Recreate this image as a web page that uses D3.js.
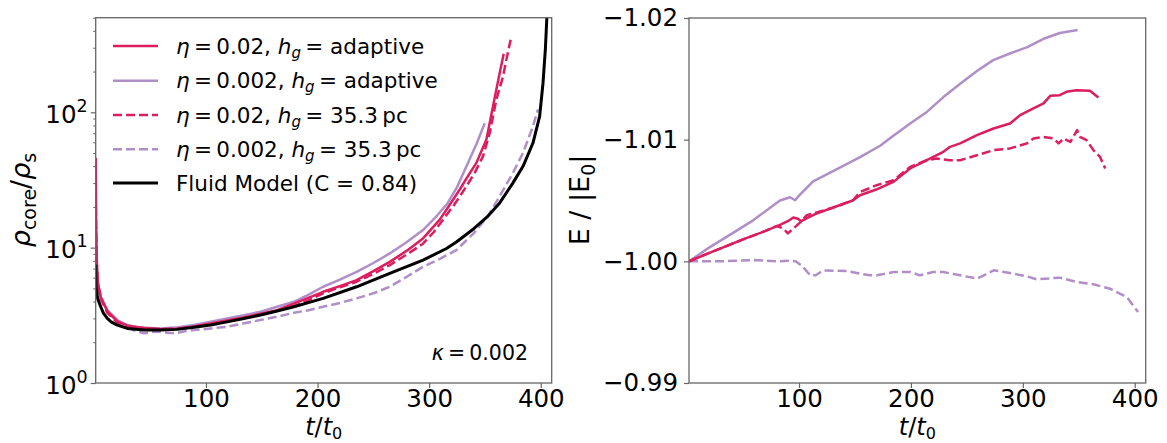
<!DOCTYPE html>
<html><head><meta charset="utf-8">
<script src="https://cdn.jsdelivr.net/npm/d3@7"></script>
<style>
body{margin:0;background:#fff;}
svg text{font-family:"DejaVu Sans",sans-serif;fill:#000;}
</style></head>
<body><svg id="chart" width="1167" height="443"></svg>
<script>
// ---------- DATA (left panel: rho_core/rho_s vs t/t0) ----------
const fluidT = [1.2,1.5,3,5.7,8,11.6,15,20.6,29.5,44.5,59.4,74.3,89.3,104.2,119,134,149,163.8,178.8,205,235,264.7,294.5,315.5,324.4,340,352.7,363.2,375.1,384.1,393,399,402,404.1,405.5];
const fluidV = [7.5,5.14,4.2,3.66,3.3,3.0,2.83,2.68,2.53,2.46,2.46,2.49,2.58,2.68,2.83,3.0,3.18,3.40,3.66,4.22,5.14,6.45,8.09,9.86,11.0,13.8,17.1,21.4,30.1,39.9,59.3,93.4,164,290,511];

const rhoA002T = [1.2,2,3.5,5.7,11.6,20.6,29.5,38.5,59.4,75,89.3,104.2,119,134,149,163.8,178.8,192,205,220,235,250,264.7,280,294.5,305,316,325,333.4,342.3,349.8];
const rhoA002V = [9,6.5,5.2,4.34,3.46,2.92,2.68,2.58,2.53,2.58,2.68,2.83,3.0,3.17,3.36,3.66,3.98,4.5,5.14,5.8,6.63,7.7,9.06,11,13.5,16.5,21,28,40,58,83];

const rhoA02T = [1.3,1.6,2.2,3.2,5.7,11.6,20.6,29.5,44.5,59.4,74.3,89.3,104.2,119,134,149,163.8,175.2,190,205,220,235,250,264.7,280,294.5,309.5,318,327.4,335,342.3,351.3,357.2,363.2,366.8];
const rhoA02V = [46,15,8,5.5,4.3,3.4,2.85,2.65,2.55,2.5,2.52,2.62,2.75,2.9,3.05,3.25,3.45,3.76,4.2,4.72,5.2,5.75,6.7,7.85,9.5,11.7,16.1,20.5,26.9,34,42.3,62.9,111,195,271];

const rhoF02T = [1.3,2,3.2,5.7,11.6,20.6,29.5,44.5,59.4,74.3,89.3,104.2,119,134,149,163.8,178.8,192,205,220,235,250,264.7,280,294.5,304,312.4,322,333.4,341,348.3,354.3,360.2,366.2,369.2,373];
const rhoF02V = [20,8,5.3,4.2,3.3,2.8,2.6,2.52,2.5,2.52,2.6,2.72,2.88,3.03,3.22,3.42,3.7,4.1,4.6,5.1,5.6,6.4,7.43,8.9,10.7,13,16.1,20.5,28.4,36,47.4,70.3,124,184,245,344];

const rhoF002T = [1.2,2.5,5.7,10,14.7,22,29.5,37,44.5,52,59.4,67,74.3,82,89.3,104.2,119,134,149,163.8,178.8,192,205,220,235,250,264.7,280,294.5,310,324.4,340,352.7,363.2,375.1,384.1,393,397.5];
const rhoF002V = [8,5.5,4.46,3.6,3.18,2.8,2.58,2.42,2.33,2.38,2.39,2.34,2.35,2.42,2.46,2.53,2.6,2.76,2.92,3.09,3.30,3.45,3.66,3.9,4.22,4.6,5.14,6.1,7.22,8.3,9.59,12.8,17.1,24,35.7,50.1,78.8,105];

// ---------- DATA (right panel: E/|E0| vs t/t0) ----------
const eA002T = [1.7,20,40,59,83,92,96.5,100,112.6,130,154.6,172.5,184,199,214.5,229,244,259,273.5,289,304,318,333,349];
const eA002V = [-1.0,-1.00115,-1.00228,-1.00337,-1.0050,-1.00527,-1.00502,-1.0054,-1.00658,-1.0074,-1.00856,-1.0095,-1.0103,-1.0113,-1.0123,-1.0135,-1.0146,-1.01565,-1.01654,-1.0171,-1.01761,-1.01827,-1.01877,-1.01901];

const eA02T = [1.7,20,50,70,83,90,95,99,102,108,115,130,148,154.6,169,184.4,199.3,214.2,229,235,244,259,273.8,288.6,297.6,309.5,318.5,324.5,333,339,348,360,363,367.5];
const eA02V = [-1.0,-1.0007,-1.0018,-1.0025,-1.003,-1.0033,-1.0036,-1.0035,-1.0033,-1.0036,-1.0039,-1.0044,-1.005,-1.00543,-1.0059,-1.00653,-1.00763,-1.00831,-1.009,-1.00941,-1.00969,-1.01037,-1.01092,-1.01133,-1.01202,-1.01257,-1.01298,-1.0136,-1.01366,-1.01393,-1.01407,-1.01402,-1.0138,-1.01347];

const eF02T = [1.7,20,50,70,80,86,90,95,101,107,115,130,148,154.6,169.5,184.4,199.3,214.2,223,235,244,259,274,288.6,303.5,309.5,318.5,327.5,332,336.5,342.5,348.5,351,357,363,369,373.6];
const eF02V = [-1.0,-1.0007,-1.0018,-1.0025,-1.0029,-1.0027,-1.0023,-1.0027,-1.0032,-1.0038,-1.004,-1.0044,-1.005,-1.0057,-1.00626,-1.00667,-1.00776,-1.00831,-1.00845,-1.00831,-1.00831,-1.00872,-1.00914,-1.00928,-1.00969,-1.0101,-1.01023,-1.0101,-1.00969,-1.0101,-1.00982,-1.01078,-1.01023,-1.00996,-1.00914,-1.00858,-1.00763];

const eF002T = [1.7,30,60,80,92,97,103,110,115,121.5,143,154.6,163.5,169.5,184.4,199.3,208,220,229,244,259,274,288.6,303.5,312.5,333,348,363,378,393,403];
const eF002V = [-1.0,-1.0,-1.0001,-1.0,-1.00005,-1.0,-0.9996,-0.99885,-0.99885,-0.99926,-0.9992,-0.99899,-0.99885,-0.99885,-0.99912,-0.99912,-0.99885,-0.99912,-0.99912,-0.99885,-0.99858,-0.99926,-0.99904,-0.99877,-0.99852,-0.99866,-0.9983,-0.99811,-0.99775,-0.99706,-0.99583];

// ---------- TICKS / LABELS ----------
const xTicks = [100,200,300,400];
const yLeftMajor = [1,10,100];
const yLeftExp = ["0","1","2"];
const yLeftMinor = [2,3,4,5,6,7,8,9,20,30,40,50,60,70,80,90,200,300,400,500];
const yRightTicks = [-1.02,-1.01,-1.00,-0.99];
const yRightLabels = ["\u22121.02","\u22121.01","\u22121.00","\u22120.99"];

const RED = "#dc1d5e", PURPLE = "#b08fc8";
const TICK_FS = 24.5, LABEL_FS = 27, SUB_FS = 19, LEG_FS = 21.5;
const TH = "\u2009"; // thin space (mathtext spacing)

const svg = d3.select("#chart");
const axisColor = "#666";

// scales
const xL = d3.scaleLinear().domain([1.2,409.8]).range([95.7,551.7]);
const yL = d3.scaleLog().domain([1,500]).range([383,17.7]);
const xR = d3.scaleLinear().domain([1.7,409.8]).range([689,1145.7]);
const yR = d3.scaleLinear().domain([-0.99,-1.02]).range([383,18]);

function clip(id,x,y){
  svg.append("clipPath").attr("id",id).append("rect")
    .attr("x",x.range()[0]).attr("y",y.range()[1])
    .attr("width",x.range()[1]-x.range()[0]).attr("height",y.range()[0]-y.range()[1]);
}
clip("cl",xL,yL); clip("cr",xR,yR);

function drawLine(g,x,y,T,V,color,width,dash){
  const pts = T.map((t,i)=>[t,V[i]]);
  g.append("path").datum(pts)
    .attr("d",d3.line().x(d=>x(d[0])).y(d=>y(d[1])))
    .attr("fill","none").attr("stroke",color).attr("stroke-width",width)
    .attr("stroke-linejoin","round")
    .attr("stroke-dasharray",dash||null);
}

// ---- Left panel lines
const gL = svg.append("g").attr("clip-path","url(#cl)");
drawLine(gL,xL,yL,rhoF002T,rhoF002V,PURPLE,2.5,"9,4");
drawLine(gL,xL,yL,rhoA002T,rhoA002V,PURPLE,2.5);
drawLine(gL,xL,yL,rhoF02T,rhoF02V,RED,2.5,"9,4");
drawLine(gL,xL,yL,rhoA02T,rhoA02V,RED,2.5);
drawLine(gL,xL,yL,fluidT,fluidV,"#000",3);

// ---- Right panel lines
const gR = svg.append("g").attr("clip-path","url(#cr)");
drawLine(gR,xR,yR,eF002T,eF002V,PURPLE,2.5,"9,4");
drawLine(gR,xR,yR,eA002T,eA002V,PURPLE,2.5);
drawLine(gR,xR,yR,eF02T,eF02V,RED,2.5,"9,4");
drawLine(gR,xR,yR,eA02T,eA02V,RED,2.5);

// ---- frames
function frame(x,y){
  svg.append("rect").attr("x",x.range()[0]).attr("y",y.range()[1])
    .attr("width",x.range()[1]-x.range()[0]).attr("height",y.range()[0]-y.range()[1])
    .attr("fill","none").attr("stroke",axisColor).attr("stroke-width",1.3);
}
frame(xL,yL); frame(xR,yR);

function styleAxis(g){
  g.select(".domain").remove();
  g.selectAll(".tick line").attr("stroke",axisColor).attr("stroke-width",1.2);
  g.selectAll(".tick text").attr("font-size",TICK_FS).attr("font-family","DejaVu Sans").attr("fill","#000");
}

// x axes
[[xL,yL],[xR,yR]].forEach(([x,y])=>{
  const g = svg.append("g").attr("transform",`translate(0,${y.range()[0]})`)
    .call(d3.axisBottom(x).tickValues(xTicks).tickSize(5).tickPadding(1.5).tickFormat(d3.format("d")));
  styleAxis(g);
});

// left y axis (log)
const gYL = svg.append("g").attr("transform",`translate(${xL.range()[0]},0)`)
  .call(d3.axisLeft(yL).tickValues(yLeftMajor).tickSize(5).tickFormat(()=>""));
styleAxis(gYL);
gYL.selectAll(".tick").each(function(d,i){
  const t = d3.select(this).select("text").text(null)
    .attr("x",-8).attr("dy",null).attr("y",10).attr("text-anchor","end");
  t.append("tspan").text("10");
  t.append("tspan").attr("dy",-11).attr("font-size",17.5).text(yLeftExp[i]);
});
const gYLm = svg.append("g").attr("transform",`translate(${xL.range()[0]},0)`)
  .call(d3.axisLeft(yL).tickValues(yLeftMinor).tickSize(2.5).tickFormat(()=>""));
styleAxis(gYLm);
gYLm.selectAll(".tick line").attr("stroke-width",1);

// right y axis
const gYR = svg.append("g").attr("transform",`translate(${xR.range()[0]},0)`)
  .call(d3.axisLeft(yR).tickValues(yRightTicks).tickSize(5).tickPadding(6).tickFormat((d,i)=>yRightLabels[i]));
styleAxis(gYR);

// axis labels
function xLabel(x){
  const cx = (x.range()[0]+x.range()[1])/2;
  const t = svg.append("text").attr("x",cx).attr("y",435).attr("text-anchor","middle").attr("font-size",24);
  t.append("tspan").attr("font-style","italic").text("t");
  t.append("tspan").text("/");
  t.append("tspan").attr("font-style","italic").text("t");
  t.append("tspan").attr("dy",4).attr("font-size",16).text("0");
}
xLabel(xL); xLabel(xR);

const yl = svg.append("text").attr("transform","translate(30,200) rotate(-90)")
  .attr("text-anchor","middle").attr("font-size",LABEL_FS);
yl.append("tspan").attr("font-style","italic").text("\u03c1");
yl.append("tspan").attr("dy",6).attr("font-size",SUB_FS).text("core");
yl.append("tspan").attr("dy",-6).text("/");
yl.append("tspan").attr("font-style","italic").text("\u03c1");
yl.append("tspan").attr("dy",6).attr("font-size",SUB_FS).text("s");

const yr = svg.append("text").attr("transform","translate(589,200) rotate(-90)")
  .attr("text-anchor","middle").attr("font-size",LABEL_FS);
yr.append("tspan").text("E / |E");
yr.append("tspan").attr("dy",6).attr("font-size",SUB_FS).text("0");
yr.append("tspan").attr("dy",-6).text("|");

// legend
const legend = [
  {c:RED, dash:null, eta:"0.02", hg:"adaptive", pc:false},
  {c:PURPLE, dash:null, eta:"0.002", hg:"adaptive", pc:false},
  {c:RED, dash:"9,4", eta:"0.02", hg:"35.3", pc:true},
  {c:PURPLE, dash:"9,4", eta:"0.002", hg:"35.3", pc:true},
  {c:"#000", dash:null, fluid:"Fluid Model (C = 0.84)"}
];
const legRows = [46,80.7,115,149.3,183];
legend.forEach((e,i)=>{
  const y = legRows[i];
  svg.append("line").attr("x1",113).attr("x2",158).attr("y1",y).attr("y2",y)
    .attr("stroke",e.c).attr("stroke-width",e.c==="#000"?3:2.5).attr("stroke-dasharray",e.dash);
  const t = svg.append("text").attr("x",176).attr("y",y+7.5).attr("font-size",LEG_FS);
  if(e.fluid){ t.text(e.fluid); return; }
  t.append("tspan").attr("font-style","italic").text("\u03b7");
  t.append("tspan").text(TH+"="+TH+e.eta+", ");
  t.append("tspan").attr("font-style","italic").text("h");
  t.append("tspan").attr("font-style","italic").attr("font-size",15).attr("dy",4).text("g");
  t.append("tspan").attr("dy",-4).text(TH+"= "+(e.pc? e.hg+TH+"pc" : e.hg));
});

// kappa annotation
const kt = svg.append("text").attr("x",528).attr("y",360).attr("text-anchor","end").attr("font-size",20.5);
kt.append("tspan").attr("font-style","italic").text("\u03ba");
kt.append("tspan").text(TH+"="+TH+"0.002");
</script></body></html>
